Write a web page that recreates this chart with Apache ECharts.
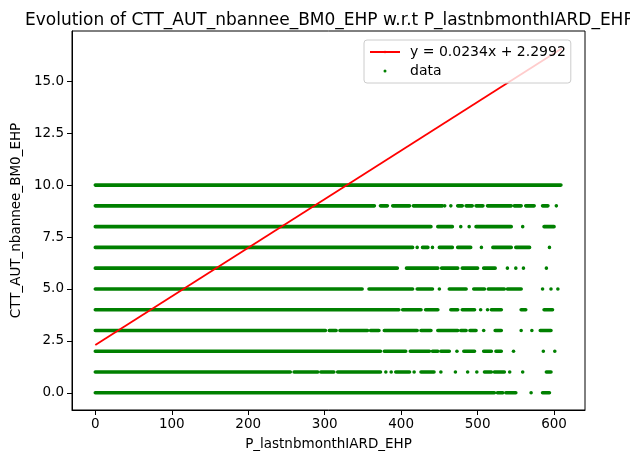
<!DOCTYPE html>
<html><head><meta charset="utf-8">
<script src="https://cdn.jsdelivr.net/npm/echarts@6/dist/echarts.min.js"></script>
<style>html,body{margin:0;padding:0;background:#fff}#c{width:630px;height:456px}</style>
</head><body><div id="c"></div>
<script>
// Tick labels
const xTicks = [0, 100, 200, 300, 400, 500, 600];
const yTicks = [0, 2.5, 5, 7.5, 10, 12.5, 15];
// Regression line
const lineX = [0, 610];
const lineY = [2.2992, 16.573];
const lineLabel = 'y = 0.0234x + 2.2992';
// Data: for each y level, runs of points as [xStart, xEnd] (a single point has xStart == xEnd)
const seg0 = [[0,522],[526,533],[537,550],[570,570],[585,594]];
const seg1 = [[0,255],[260,291],[295,312],[317,373],[380,380],[387,387],[393,411],[417,417],[426,443],[452,452],[471,471],[487,487],[499,499],[509,518],[522,535],[542,542],[559,559],[590,596]];
const seg2 = [[0,373],[378,406],[412,437],[441,448],[452,463],[473,473],[482,496],[508,518],[524,531],[547,547],[586,586],[601,601]];
const seg3 = [[0,301],[306,315],[320,356],[360,371],[378,421],[426,439],[448,474],[478,485],[490,498],[508,508],[523,531],[557,557],[571,571],[582,596]];
const seg4 = [[0,397],[402,426],[432,448],[465,474],[480,496],[504,504],[513,513],[518,531],[557,563],[587,598]];
const seg5 = [[0,349],[358,415],[421,441],[450,450],[463,485],[495,509],[514,535],[539,557],[585,585],[596,596],[605,605]];
const seg6 = [[0,395],[407,448],[453,474],[480,500],[508,523],[539,539],[550,550],[560,560],[590,590]];
const seg7 = [[0,415],[421,421],[428,435],[441,441],[450,467],[474,491],[505,505],[520,544],[550,568],[594,594]];
const seg8 = [[0,439],[448,467],[478,478],[489,489],[498,544],[559,559],[587,600]];
const seg9 = [[0,365],[373,382],[389,411],[416,454],[457,457],[465,465],[474,480],[485,493],[498,507],[513,544],[548,557],[563,574],[585,592],[603,603]];
const seg10 = [[0,609]];

const levels = [seg0,seg1,seg2,seg3,seg4,seg5,seg6,seg7,seg8,seg9,seg10];
const segData = [];
levels.forEach((arr, lv) => arr.forEach(s => segData.push([lv, s[0], s[1]])));

const font = 'DejaVu Sans';
const chart = echarts.init(document.getElementById('c'), null, {renderer: 'canvas'});
chart.setOption({
  animation: false,
  backgroundColor: '#fff',
  title: {
    text: 'Evolution of CTT_AUT_nbannee_BM0_EHP w.r.t P_lastnbmonthIARD_EHP',
    left: 20, top: 7,
    textStyle: {fontFamily: font, fontSize: 17, fontWeight: 'normal', color: '#000'}
  },
  grid: {left: 72, right: 45, top: 31, bottom: 45, show: true, borderColor: '#000', borderWidth: 1, backgroundColor: 'transparent'},
  legend: {
    orient: 'vertical', left: 364, top: 40,
    padding: [5, 5, 5, 5],
    itemWidth: 30, itemHeight: 3, itemGap: 5,
    backgroundColor: 'rgba(255,255,255,0.8)', borderColor: '#cccccc', borderWidth: 1, borderRadius: 3,
    textStyle: {fontFamily: font, fontSize: 14, color: '#000', padding: [0,0,0,5]},
    data: [{name: lineLabel}, {name: 'data', icon: 'circle'}]
  },
  xAxis: {
    type: 'value', min: -30.5, max: 640.5,
    name: 'P_lastnbmonthIARD_EHP', nameLocation: 'middle', nameGap: 27,
    nameTextStyle: {fontFamily: font, fontSize: 13.5, color: '#000'},
    splitLine: {show: false},
    axisLine: {show: true, onZero: false, lineStyle: {color: '#000', width: 1}},
    axisTick: {show: true, length: 5, lineStyle: {color: '#000'}, customValues: xTicks},
    axisLabel: {fontFamily: font, fontSize: 13.5, color: '#000', margin: 7, customValues: xTicks, formatter: v => String(v)}
  },
  yAxis: {
    type: 'value', min: -0.83, max: 17.42,
    name: 'CTT_AUT_nbannee_BM0_EHP', nameLocation: 'middle', nameGap: 47, nameRotate: 90,
    nameTextStyle: {fontFamily: font, fontSize: 13.5, color: '#000'},
    splitLine: {show: false},
    axisLine: {show: true, onZero: false, lineStyle: {color: '#000', width: 1}},
    axisTick: {show: true, length: 5, lineStyle: {color: '#000'}, customValues: yTicks},
    axisLabel: {fontFamily: font, fontSize: 13.5, color: '#000', margin: 8, customValues: yTicks, formatter: v => v.toFixed(1)}
  },
  series: [
    {
      name: lineLabel, type: 'line', data: lineX.map((x, i) => [x, lineY[i]]),
      symbol: 'none', lineStyle: {color: '#ff0000', width: 1.8}, itemStyle: {color: '#ff0000'}, z: 3
    },
    {
      name: 'data', type: 'custom', data: segData,
      encode: {x: [1, 2], y: 0},
      itemStyle: {color: '#008000'},
      renderItem: function (params, api) {
        const y = api.value(0);
        const p0 = api.coord([api.value(1), y]);
        const p1 = api.coord([api.value(2), y]);
        const h = 3.6;
        return {
          type: 'rect',
          shape: {x: p0[0] - h / 2, y: p0[1] - h / 2, width: p1[0] - p0[0] + h, height: h, r: h / 2},
          style: {fill: '#008000'}
        };
      },
      z: 2
    }
  ]
});
</script></body></html>
